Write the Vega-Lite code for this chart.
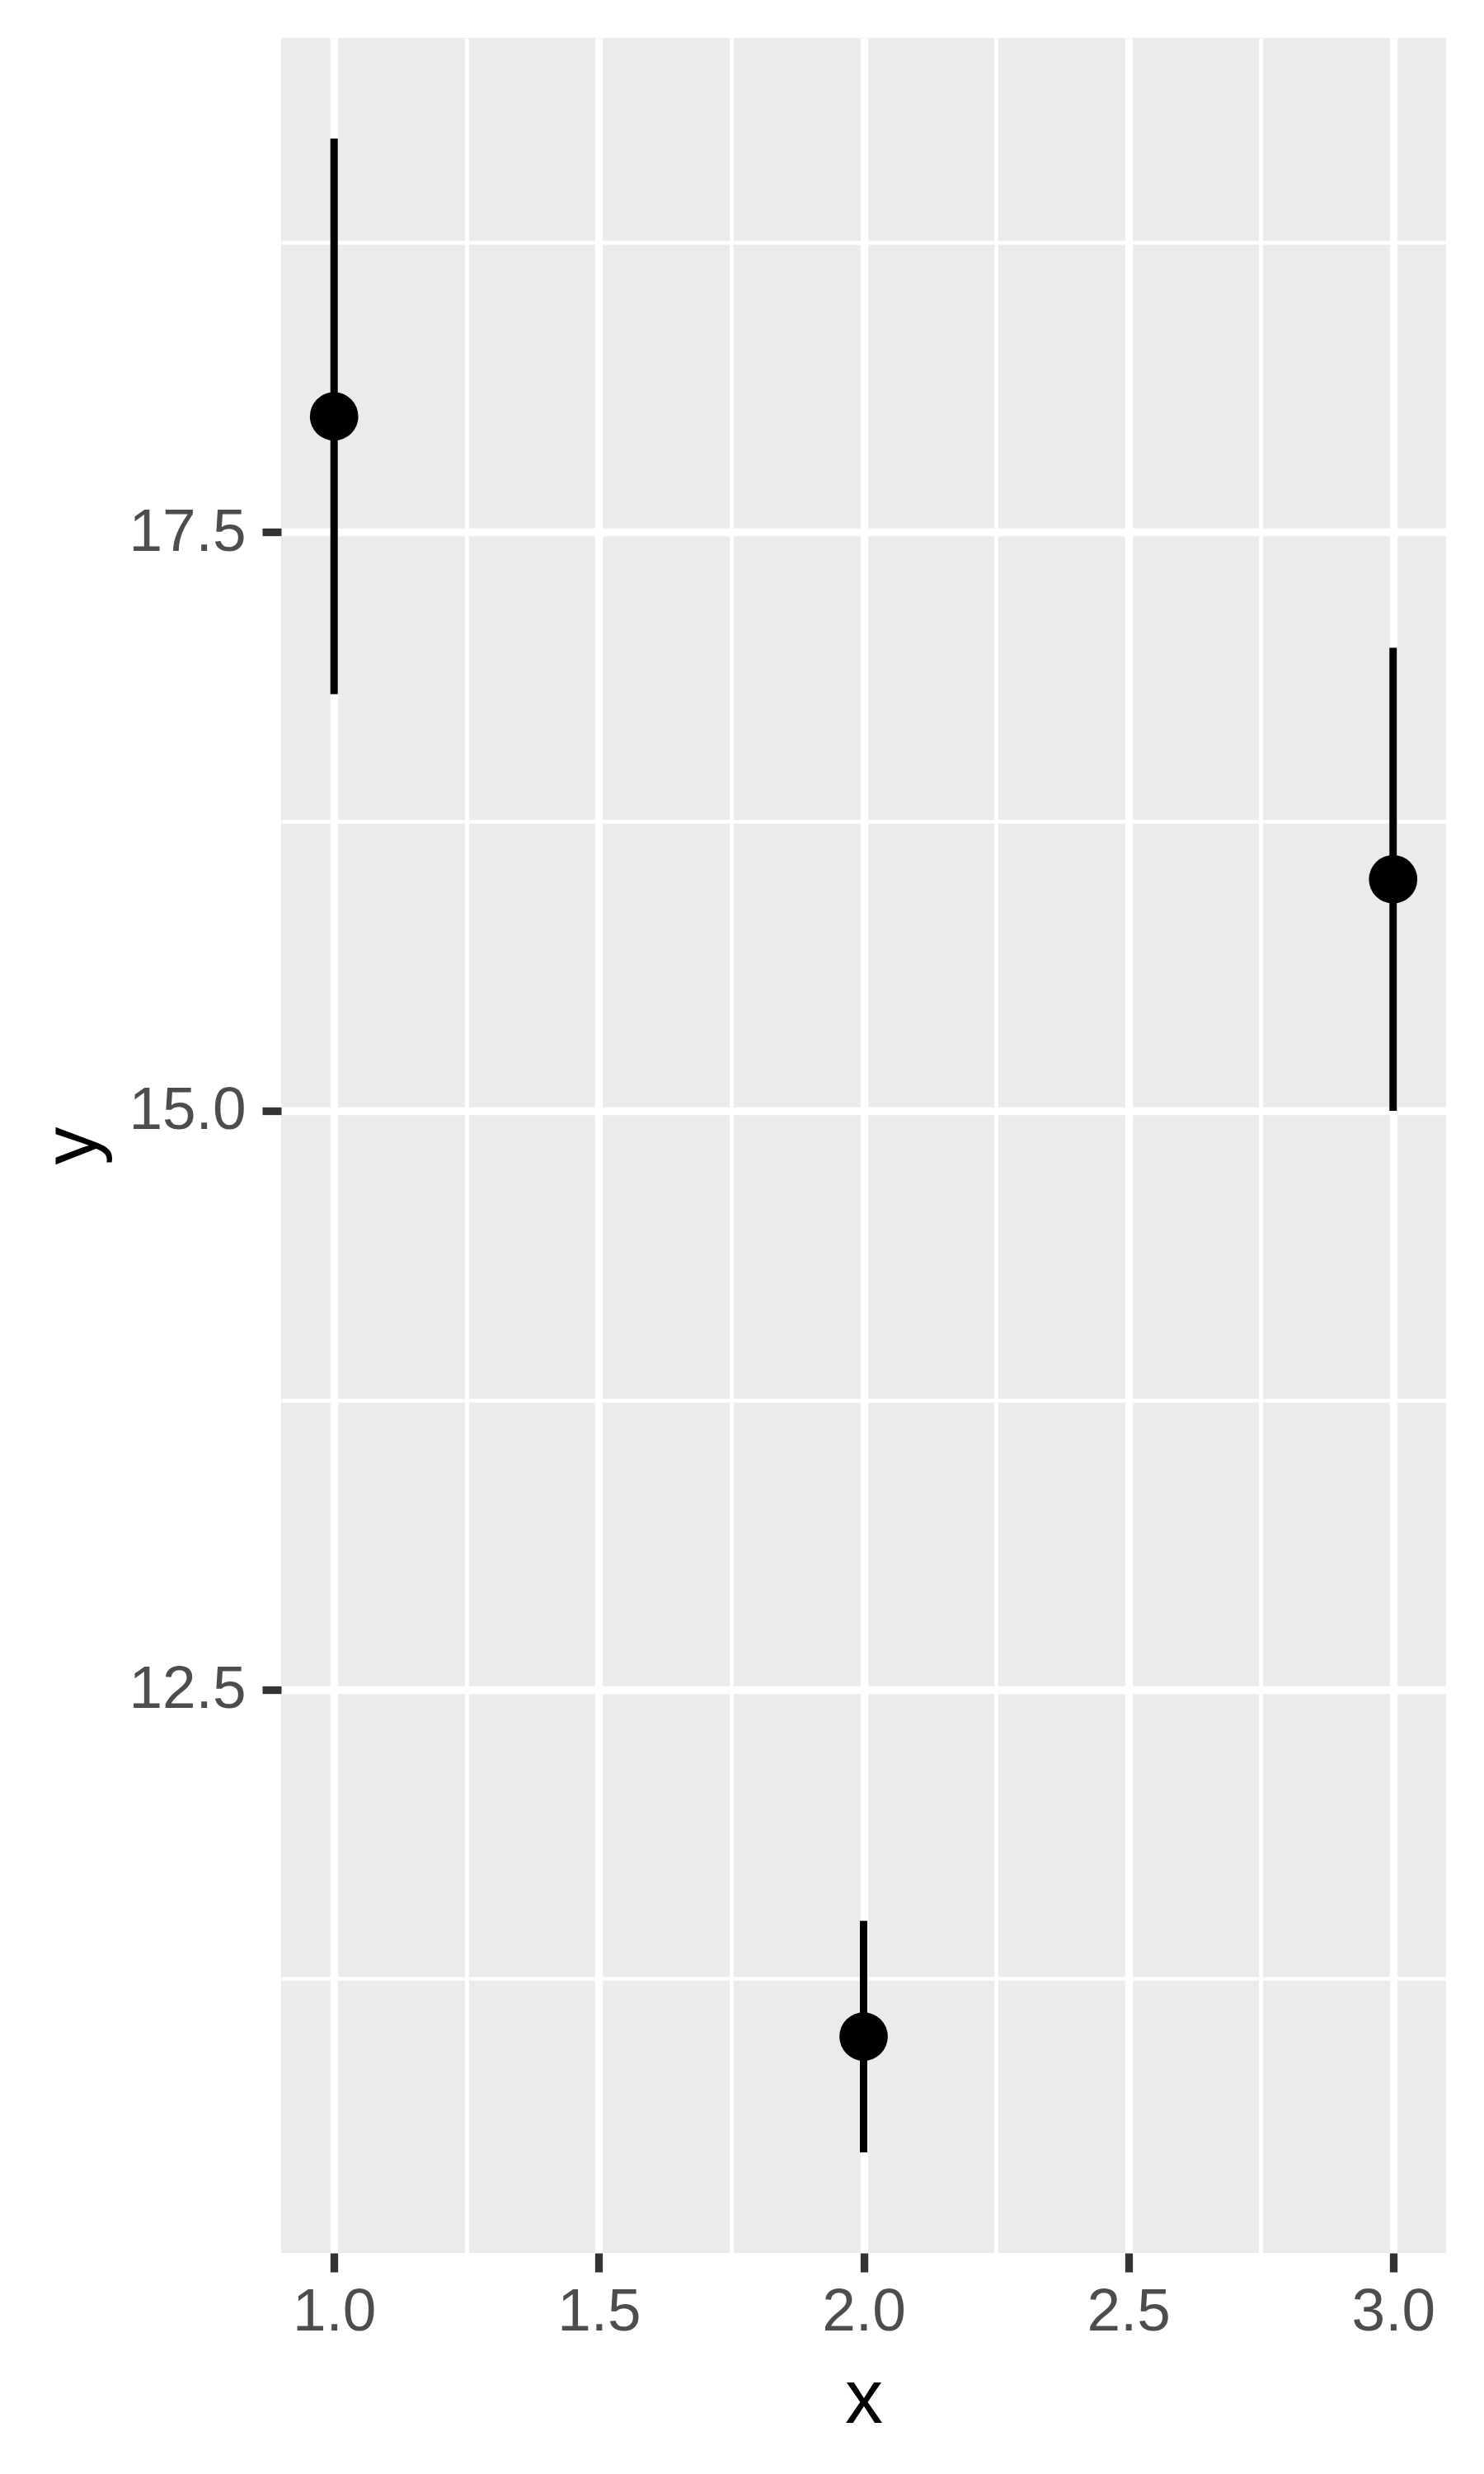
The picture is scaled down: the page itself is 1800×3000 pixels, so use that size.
{
  "$schema": "https://vega.github.io/schema/vega-lite/v6.json",
  "width": 1413,
  "height": 2686,
  "autosize": {"type": "none"},
  "padding": {"left": 341, "top": 46, "right": 46, "bottom": 268},
  "background": "white",
  "config": {
    "view": {"fill": "#EBEBEB", "stroke": null},
    "font": "Liberation Sans"
  },
  "data": {
    "values": [
      {"x": 1, "y": 18, "lower": 16.8, "upper": 19.2},
      {"x": 2, "y": 11, "lower": 10.5, "upper": 11.5},
      {"x": 3, "y": 16, "lower": 15, "upper": 17}
    ]
  },
  "encoding": {
    "x": {
      "field": "x",
      "type": "quantitative",
      "scale": {"domain": [0.9, 3.1], "nice": false, "zero": false},
      "axis": {
        "title": "x",
        "values": [1, 1.25, 1.5, 1.75, 2, 2.25, 2.5, 2.75, 3],
        "labelExpr": "datum.value % 0.5 === 0 ? format(datum.value, '.1f') : ''",
        "grid": true,
        "gridColor": "white",
        "gridWidth": {"condition": {"test": "datum.value % 0.5 === 0", "value": 9.3}, "value": 4.7},
        "domain": false,
        "tickColor": "#333333",
        "tickWidth": 9.3,
        "tickSize": 23,
        "tickOpacity": {"condition": {"test": "datum.value % 0.5 === 0", "value": 1}, "value": 0},
        "labelFont": "Liberation Sans",
        "labelFontSize": 73,
        "labelColor": "#4D4D4D",
        "labelPadding": 12,
        "labelFlush": false,
        "labelOverlap": false,
        "titleFont": "Liberation Sans",
        "titleFontSize": 92,
        "titleFontWeight": "normal",
        "titleColor": "black",
        "titlePadding": 24
      }
    }
  },
  "layer": [
    {
      "mark": {"type": "rule", "color": "black", "strokeWidth": 9},
      "encoding": {
        "y": {
          "field": "lower",
          "type": "quantitative",
          "scale": {"domain": [10.065, 19.635], "nice": false, "zero": false},
          "axis": {
            "title": "y",
            "values": [11.25, 12.5, 13.75, 15, 16.25, 17.5, 18.75],
            "labelExpr": "datum.value % 2.5 === 0 ? format(datum.value, '.1f') : ''",
            "grid": true,
            "gridColor": "white",
            "gridWidth": {"condition": {"test": "datum.value % 2.5 === 0", "value": 9.3}, "value": 4.7},
            "domain": false,
            "tickColor": "#333333",
            "tickWidth": 9.3,
            "tickSize": 23,
            "tickOpacity": {"condition": {"test": "datum.value % 2.5 === 0", "value": 1}, "value": 0},
            "labelFont": "Liberation Sans",
            "labelFontSize": 73,
            "labelColor": "#4D4D4D",
            "labelPadding": 20,
            "labelFlush": false,
            "labelOverlap": false,
            "titleFont": "Liberation Sans",
            "titleFontSize": 92,
            "titleFontWeight": "normal",
            "titleColor": "black",
            "titlePadding": 20
          }
        },
        "y2": {"field": "upper"}
      }
    },
    {
      "mark": {"type": "point", "shape": "circle", "filled": true, "color": "black", "opacity": 1, "size": 3446},
      "encoding": {
        "y": {"field": "y", "type": "quantitative"}
      }
    }
  ]
}
